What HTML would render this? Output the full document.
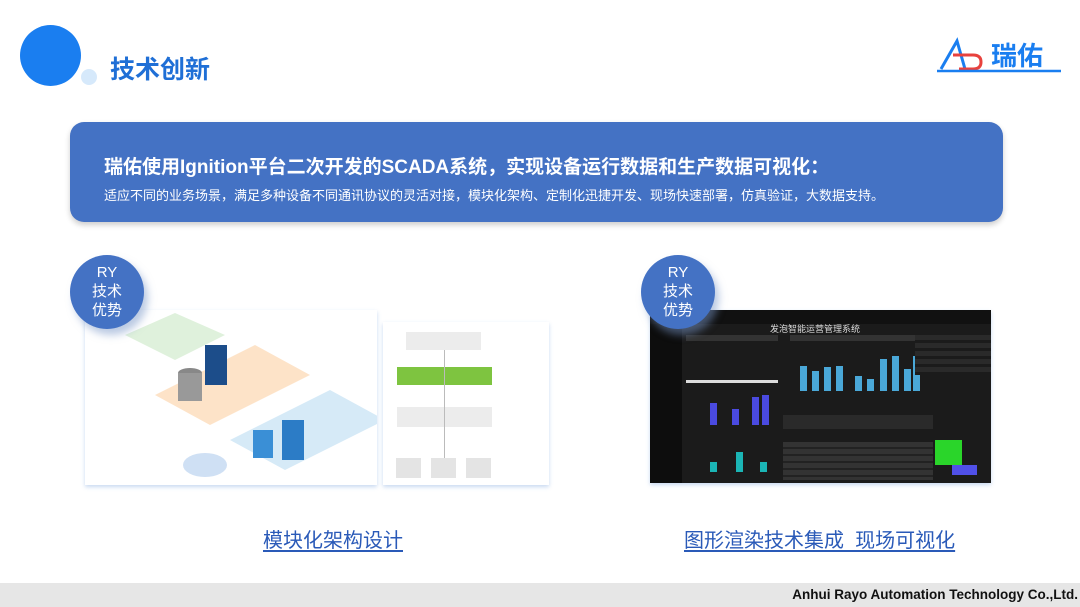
<!DOCTYPE html><html><head><meta charset="utf-8"><style>
*{margin:0;padding:0;box-sizing:border-box}
body{width:1080px;height:607px;background:#fff;position:relative;overflow:hidden;font-family:"Liberation Sans","Noto Sans CJK SC",sans-serif}
.a{position:absolute}
.cap{color:#2a5ab8;font-size:20px;text-decoration:underline;text-underline-offset:3px}
.ry{width:74px;height:74px;border-radius:50%;background:#4472c4;color:#fff;font-size:15px;line-height:19px;text-align:center;padding-top:8px;box-shadow:4px 6px 8px rgba(120,150,200,.5)}
.bar{position:absolute;bottom:0;width:7px}
</style></head><body>
<div class="a" style="left:20px;top:25px;width:61px;height:61px;border-radius:50%;background:#1a7ef0"></div>
<div class="a" style="left:81px;top:69px;width:16px;height:16px;border-radius:50%;background:#d6e9fb"></div>
<div class="a" style="left:110px;top:50px;font-size:25px;font-weight:bold;color:#1f6fd6">技术创新</div>
<svg class="a" style="left:935px;top:35px" width="130" height="40">
<path d="M6 34 L22 6 L30 34" stroke="#1a7ef0" stroke-width="3" fill="none"/>
<path d="M18 20 H38 Q46 20 46 27 Q46 34 38 34 H24" stroke="#e8423d" stroke-width="3" fill="none"/>
<text x="56" y="30" font-size="26" font-weight="bold" fill="#1a7ef0" font-family="Noto Sans CJK SC">瑞佑</text>
<line x1="2" y1="36" x2="126" y2="36" stroke="#1a7ef0" stroke-width="2.5"/>
</svg>
<div class="a" style="left:70px;top:122px;width:933px;height:100px;border-radius:14px;background:#4472c4;box-shadow:0 3px 6px rgba(0,0,0,.2)"></div>
<div class="a" style="left:104px;top:152px;font-size:19px;font-weight:bold;color:#fff">瑞佑使用Ignition平台二次开发的SCADA系统，实现设备运行数据和生产数据可视化：</div>
<div class="a" style="left:104px;top:185px;font-size:13px;color:#fff">适应不同的业务场景，满足多种设备不同通讯协议的灵活对接，模块化架构、定制化迅捷开发、现场快速部署，仿真验证，大数据支持。</div>
<div class="a" style="left:85px;top:310px;width:292px;height:175px;background:#fff;overflow:hidden;box-shadow:0 2px 4px rgba(120,160,220,.4)">
<svg width="292" height="175">
<polygon points="40,25 90,3 140,25 90,50" fill="#dff1dc"/>
<polygon points="70,85 170,35 225,65 125,115" fill="#fde3c8"/>
<polygon points="145,130 245,80 300,110 200,160" fill="#d6eaf7"/>
<ellipse cx="105" cy="63" rx="12" ry="5" fill="#888"/><rect x="93" y="63" width="24" height="28" fill="#999"/>
<rect x="120" y="35" width="22" height="40" fill="#1c4d8a"/>
<rect x="197" y="110" width="22" height="40" fill="#2c7cc6"/>
<rect x="168" y="120" width="20" height="28" fill="#3a8fd6"/>
<ellipse cx="120" cy="155" rx="22" ry="12" fill="#cfe0f4"/>
</svg></div>
<div class="a" style="left:383px;top:322px;width:166px;height:163px;background:#fff;box-shadow:0 2px 4px rgba(120,160,220,.4)">
<div class="a" style="left:23px;top:10px;width:75px;height:18px;background:#ececec"></div>
<div class="a" style="left:14px;top:45px;width:95px;height:18px;background:#7ec440"></div>
<div class="a" style="left:14px;top:85px;width:95px;height:20px;background:#ececec"></div>
<div class="a" style="left:61px;top:28px;width:1px;height:115px;background:#bbb"></div>
<div class="a" style="left:13px;top:136px;width:25px;height:20px;background:#e4e4e4"></div>
<div class="a" style="left:48px;top:136px;width:25px;height:20px;background:#e4e4e4"></div>
<div class="a" style="left:83px;top:136px;width:25px;height:20px;background:#e4e4e4"></div>
</div>
<div class="a ry" style="left:70px;top:255px">RY<br>技术<br>优势</div>
<div class="a" style="left:650px;top:310px;width:341px;height:173px;background:#1b1b1b;box-shadow:0 2px 4px rgba(120,160,220,.4)">
<div class="a" style="left:0;top:0;width:341px;height:14px;background:#111"></div>
<div class="a" style="left:0;top:14px;width:32px;height:159px;background:#0d0d0d"></div>
<div class="a" style="left:120px;top:12px;font-size:9px;color:#ddd">发泡智能运营管理系统</div>
<div class="a" style="left:36px;top:25px;width:92px;height:6px;background:#333"></div>
<div class="a" style="left:36px;top:70px;width:92px;height:3px;background:#ddd"></div>
<div class="a" style="left:40px;top:80px;width:88px;height:35px">
<div class="bar" style="left:20px;height:22px;background:#4a4ae0"></div><div class="bar" style="left:42px;height:16px;background:#4a4ae0"></div><div class="bar" style="left:62px;height:28px;background:#4a4ae0"></div><div class="bar" style="left:72px;height:30px;background:#4a4ae0"></div></div>
<div class="a" style="left:40px;top:135px;width:88px;height:27px">
<div class="bar" style="left:20px;height:10px;background:#1bb5b5"></div><div class="bar" style="left:46px;height:20px;background:#1bb5b5"></div><div class="bar" style="left:70px;height:10px;background:#1bb5b5"></div></div>
<div class="a" style="left:140px;top:25px;width:140px;height:6px;background:#333"></div>
<div class="a" style="left:145px;top:36px;width:125px;height:45px">
<div class="bar" style="left:5px;height:25px;background:#4aa8d8"></div><div class="bar" style="left:17px;height:20px;background:#4aa8d8"></div><div class="bar" style="left:29px;height:24px;background:#4aa8d8"></div><div class="bar" style="left:41px;height:25px;background:#4aa8d8"></div><div class="bar" style="left:60px;height:15px;background:#4aa8d8"></div><div class="bar" style="left:72px;height:12px;background:#4aa8d8"></div><div class="bar" style="left:85px;height:32px;background:#4aa8d8"></div><div class="bar" style="left:97px;height:35px;background:#4aa8d8"></div><div class="bar" style="left:109px;height:22px;background:#4aa8d8"></div><div class="bar" style="left:118px;height:35px;background:#4aa8d8"></div></div>
<div class="a" style="left:133px;top:105px;width:150px;height:14px;background:#2a2a2a"></div>
<div class="a" style="left:133px;top:132px;width:150px;height:38px;background:repeating-linear-gradient(#333 0 5px,#222 5px 7px)"></div>
<div class="a" style="left:265px;top:25px;width:76px;height:40px;background:repeating-linear-gradient(#2a2a2a 0 5px,#1b1b1b 5px 8px)"></div>
<div class="a" style="left:285px;top:130px;width:27px;height:25px;background:#2ad52a"></div>
<div class="a" style="left:302px;top:155px;width:25px;height:10px;background:#5050e8"></div>
</div>
<div class="a ry" style="left:641px;top:255px">RY<br>技术<br>优势</div>
<div class="a cap" style="left:263px;top:524px">模块化架构设计</div>
<div class="a cap" style="left:684px;top:524px">图形渲染技术集成&nbsp; 现场可视化</div>
<div class="a" style="left:0;top:583px;width:1080px;height:24px;background:#e6e6e6"></div>
<div class="a" style="right:2px;top:587px;font-size:13.5px;font-weight:bold;color:#111">Anhui Rayo Automation Technology Co.,Ltd.</div>
</body></html>
